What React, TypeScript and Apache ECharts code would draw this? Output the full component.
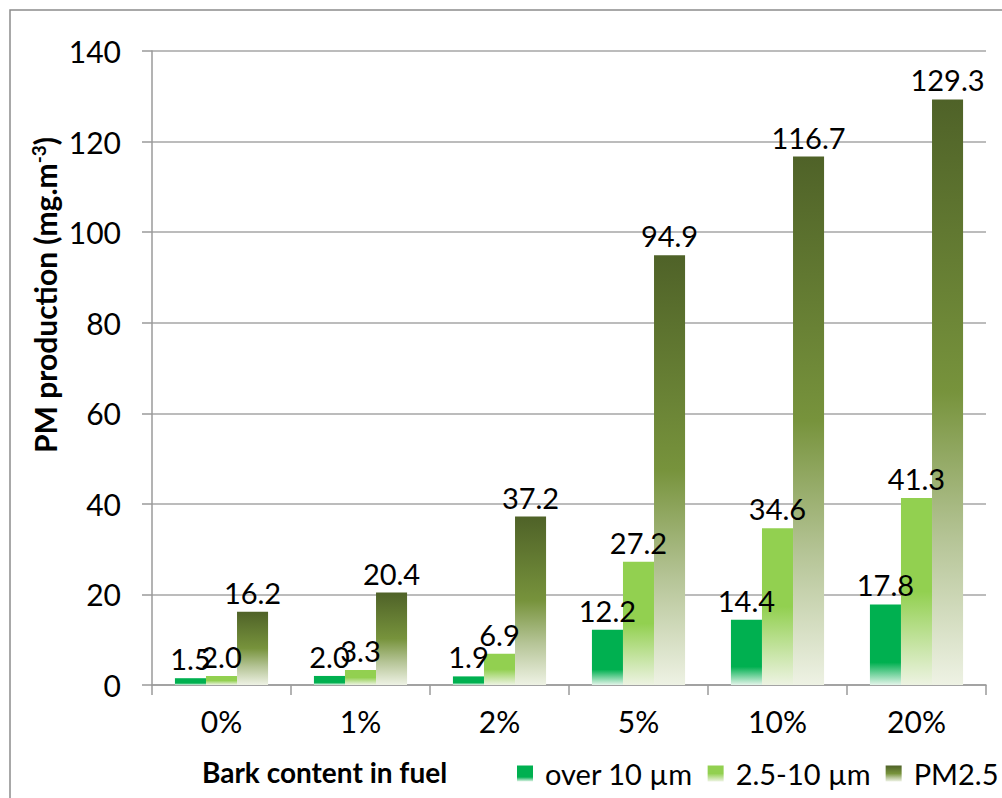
import React, { useEffect, useRef } from "react";
import * as echarts from "echarts";

const categories = ["0%", "1%", "2%", "5%", "10%", "20%"];
const over10 = [1.5, 2.0, 1.9, 12.2, 14.4, 17.8];
const pm25to10 = [2.0, 3.3, 6.9, 27.2, 34.6, 41.3];
const pm25 = [16.2, 20.4, 37.2, 94.9, 116.7, 129.3];
const seriesNames = ["over 10 µm", "2.5-10 µm", "PM2.5"];

const FONT = "Lato, 'Open Sans', sans-serif";

function grad(stops: [number, string][]) {
  return new echarts.graphic.LinearGradient(
    0, 0, 0, 1,
    stops.map(([offset, color]) => ({ offset, color }))
  );
}

export default function App() {
  const ref = useRef<HTMLDivElement>(null);
  useEffect(() => {
    if (!ref.current) return;
    const chart = echarts.init(ref.current, undefined, { renderer: "svg" });
    const labelCfg = {
      show: true,
      position: "top" as const,
      distance: 5,
      color: "#000",
      fontSize: 29,
      fontFamily: FONT,
      formatter: (p: any) => Number(p.value).toFixed(1),
    };
    chart.setOption({
      animation: false,
      backgroundColor: "#fff",
      grid: { left: 152, top: 51, right: 16, bottom: 113, containLabel: false },
      graphic: [
        {
          type: "rect",
          shape: { x: 10, y: 10, width: 1100, height: 900 },
          style: { fill: "none", stroke: "#8c8c8c", lineWidth: 1.5 },
          silent: true,
        },
        {
          type: "text",
          x: 45,
          y: 295,
          rotation: Math.PI / 2,
          style: {
            text: "PM production (mg.m{sup|-3})",
            fontSize: 30,
            fontWeight: "bold",
            fontFamily: FONT,
            fill: "#000",
            align: "center",
            verticalAlign: "middle",
            rich: {
              sup: {
                fontSize: 19,
                fontWeight: "bold",
                fontFamily: FONT,
                verticalAlign: "top",
                padding: [0, 0, 14, 0],
              },
            },
          } as any,
        },
        {
          type: "text",
          x: 202,
          y: 772,
          style: {
            text: "Bark content in fuel",
            fontSize: 28,
            fontWeight: "bold",
            fontFamily: FONT,
            fill: "#000",
            align: "left",
            verticalAlign: "middle",
          },
        },
      ],
      legend: {
        left: 517,
        right: 0,
        top: 759,
        padding: 0,
        icon: "rect",
        itemWidth: 16,
        itemHeight: 16,
        itemGap: 15,
        textStyle: { fontSize: 29, fontFamily: FONT, color: "#000", padding: [0, 0, 0, 7] },
        data: seriesNames,
      },
      xAxis: {
        type: "category",
        data: categories,
        axisLine: { lineStyle: { color: "#9a9a9a", width: 1.5 } },
        axisTick: { show: true, length: 10, lineStyle: { color: "#9a9a9a", width: 1.5 } },
        axisLabel: { color: "#000", fontSize: 30, fontFamily: FONT, margin: 21 },
      },
      yAxis: {
        type: "value",
        min: 0,
        max: 140,
        interval: 20,
        axisLine: { show: true, lineStyle: { color: "#9a9a9a", width: 1.5 } },
        axisTick: { show: true, length: 10, lineStyle: { color: "#9a9a9a", width: 1.5 } },
        splitLine: { lineStyle: { color: "#a6a6a6", width: 1.5 } },
        axisLabel: { color: "#000", fontSize: 30, fontFamily: FONT, margin: 31 },
      },
      series: [
        {
          name: seriesNames[0],
          type: "bar",
          data: over10,
          barGap: "0%",
          barCategoryGap: "33%",
          itemStyle: {
            color: grad([[0, "#00B050"], [0.72, "#00B050"], [1, "#E3F4E9"]]),
          },
          label: labelCfg,
        },
        {
          name: seriesNames[1],
          type: "bar",
          data: pm25to10,
          itemStyle: {
            color: grad([[0, "#92D050"], [0.5, "#92D050"], [1, "#EDF3E2"]]),
          },
          label: labelCfg,
        },
        {
          name: seriesNames[2],
          type: "bar",
          data: pm25,
          itemStyle: {
            color: grad([[0, "#4F6228"], [0.5, "#77933C"], [0.75, "#B5C496"], [1, "#EEF2E4"]]),
          },
          label: labelCfg,
        },
      ],
    });
    return () => chart.dispose();
  }, []);
  return (
    <div
      ref={ref}
      style={{ position: "fixed", left: 0, top: 0, width: 1002, height: 798 }}
    />
  );
}
